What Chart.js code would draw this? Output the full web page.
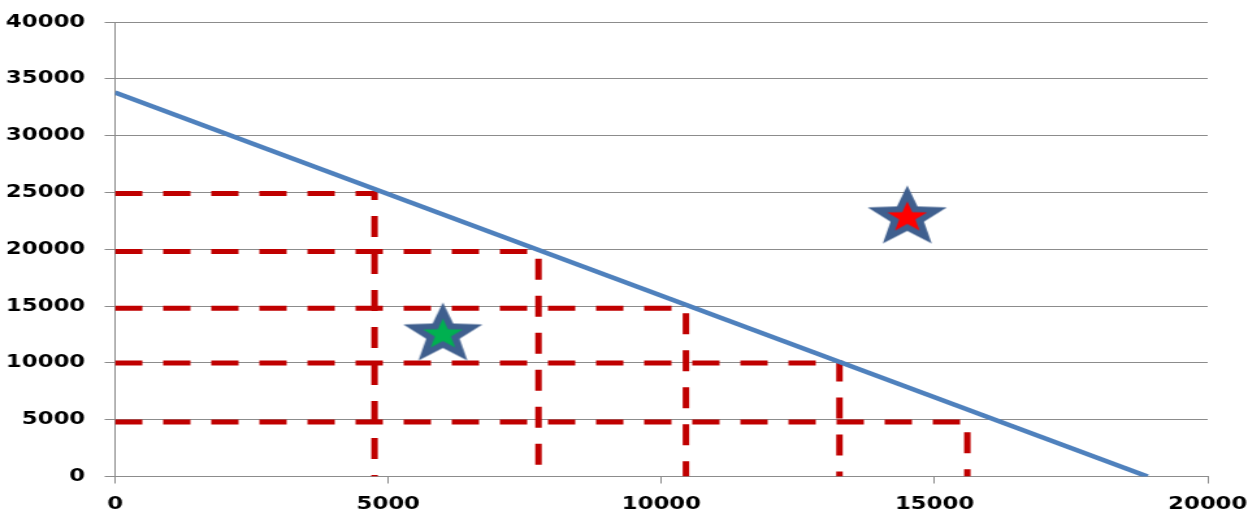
<!DOCTYPE html>
<html>
<head>
<meta charset="utf-8">
<script src="https://cdn.jsdelivr.net/npm/chart.js@4"></script>
<style>
  html, body { margin: 0; padding: 0; background: #ffffff; overflow: hidden; }
</style>
</head>
<body>
<canvas id="c" width="960" height="524" style="width:1248px;height:524px;display:block;margin-top:-9px;"></canvas>
<script>
// ---- data ----
const xTicks = [0, 5000, 10000, 15000, 20000];
const yTicks = [0, 5000, 10000, 15000, 20000, 25000, 30000, 35000, 40000];
const lineX = [0, 18900];
const lineY = [33800, 0];
const levelY = [24900, 19800, 14800, 10000, 4800];
const cornerX = [4750, 7750, 10450, 13260, 15600];
const starX = [6000, 14500];
const starY = [12500, 22800];
const starInner = ['#00b050', '#ff0000'];

function makeStar(inner) {
  const c = document.createElement('canvas');
  c.width = 68; c.height = 68;
  const ctx = c.getContext('2d');
  function star(R, r, color) {
    ctx.beginPath();
    for (let i = 0; i < 10; i++) {
      const rad = i % 2 === 0 ? R : r;
      const a = -Math.PI / 2 + i * Math.PI / 5;
      const px = 34 + rad * Math.cos(a), py = 34 + rad * Math.sin(a);
      i === 0 ? ctx.moveTo(px, py) : ctx.lineTo(px, py);
    }
    ctx.closePath();
    ctx.fillStyle = color;
    ctx.fill();
  }
  star(32, 13.5, '#3f5f8e');
  star(16, 6.5, inner);
  return c;
}

const datasets = [];
datasets.push({
  type: 'line',
  data: lineX.map((x, i) => ({ x: x, y: lineY[i] })),
  borderColor: '#4f81bd', borderWidth: 4.5, pointRadius: 0, fill: false, order: 2
});
levelY.forEach((y, i) => {
  datasets.push({
    type: 'line',
    data: [{ x: 0, y: y }, { x: cornerX[i], y: y }, { x: cornerX[i], y: 0 }],
    borderColor: '#c00000', borderWidth: 5, borderDash: [21, 16],
    pointRadius: 0, fill: false, tension: 0, order: 3
  });
});
starX.forEach((x, i) => {
  datasets.push({
    type: 'scatter',
    data: [{ x: x, y: starY[i] }],
    pointStyle: makeStar(starInner[i]), pointRadius: 30, order: 1
  });
});

const tickFont = { family: 'DejaVu Sans', size: 17.5, weight: 'bold' };
new Chart(document.getElementById('c'), {
  type: 'scatter',
  data: { datasets: datasets },
  options: {
    responsive: false,
    devicePixelRatio: 1,
    animation: false,
    layout: { padding: { top: 13, right: 31, left: 0, bottom: 0 } },
    plugins: { legend: { display: false }, tooltip: { enabled: false } },
    scales: {
      x: {
        type: 'linear', min: 0, max: 20000,
        afterBuildTicks: s => { s.ticks = xTicks.map(v => ({ value: v })); },
        ticks: { callback: v => String(v), color: '#000', font: tickFont, padding: 10, maxRotation: 0 },
        grid: { drawOnChartArea: false, drawTicks: true, tickLength: 7, color: '#8c8c8c' },
        border: { display: true, color: '#8c8c8c', width: 1 },
        afterFit: s => { s.height = 38.5; s.paddingLeft = 0; s.paddingRight = 0; }
      },
      y: {
        type: 'linear', min: 0, max: 40000,
        afterBuildTicks: s => { s.ticks = yTicks.map(v => ({ value: v })); },
        ticks: { callback: v => String(v), color: '#000', font: tickFont, padding: 15 },
        grid: { color: '#8c8c8c', lineWidth: 1, tickLength: 8 },
        border: { display: true, color: '#8c8c8c', width: 1 },
        afterFit: s => { s.width = 88.5; s.paddingTop = 0; s.paddingBottom = 0; }
      }
    }
  }
});
</script>
</body>
</html>
